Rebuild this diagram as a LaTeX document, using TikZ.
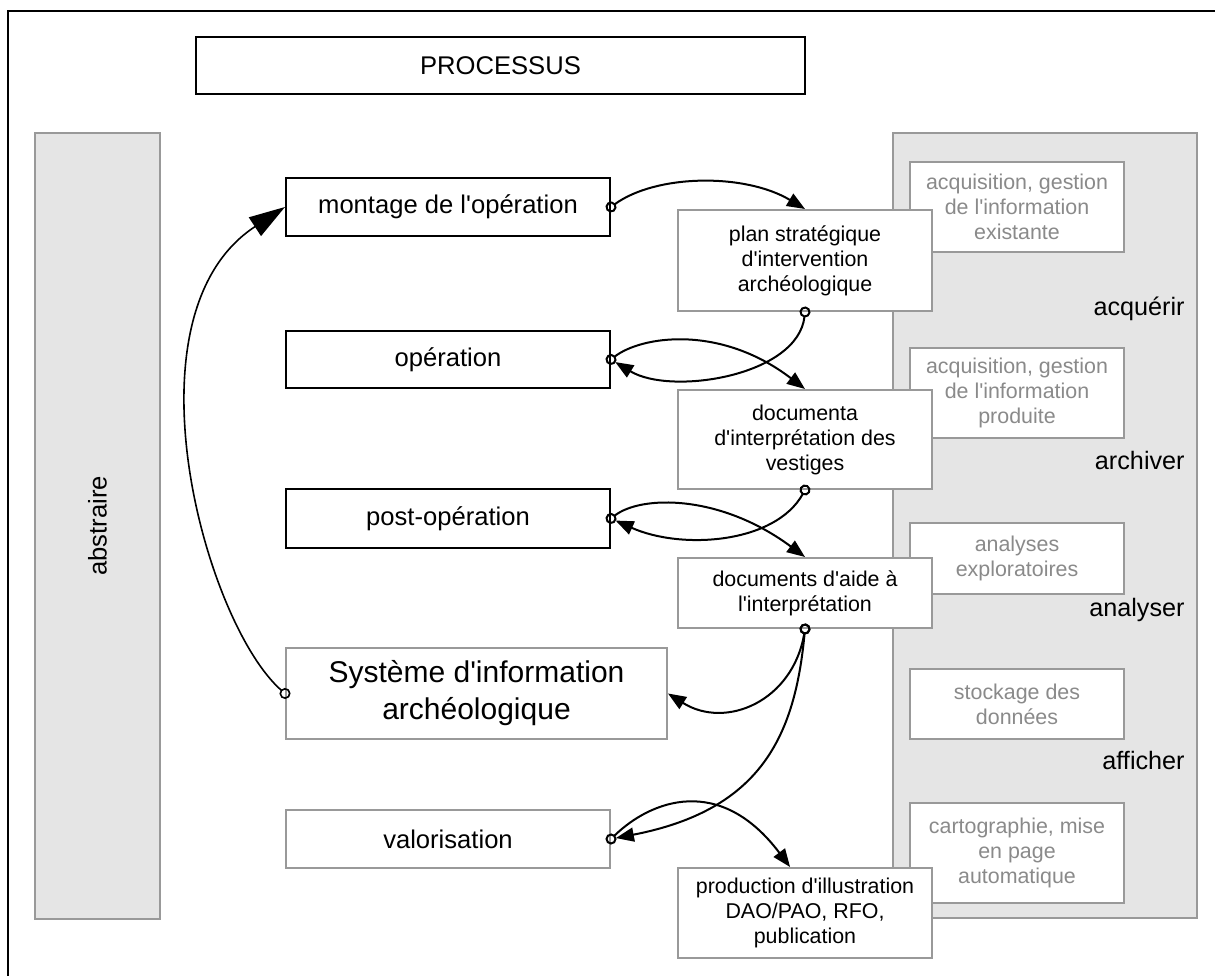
\documentclass[tikz,border=0pt]{standalone}
\usepackage{fontspec}
\setmainfont{Liberation Sans}
\usetikzlibrary{arrows.meta}
\definecolor{panelgrey}{RGB}{229,229,229}
\definecolor{boxgrey}{RGB}{153,153,153}
\definecolor{txtgrey}{RGB}{138,138,138}
\newcommand{\ap}{\textquotesingle}

\begin{document}
\begin{tikzpicture}[x=0.5pt,y=0.5pt,
  box/.style={draw=black, line width=1pt, fill=white, minimum width=162pt, minimum height=29pt, inner sep=0pt, align=center, font=\fontsize{12.8}{15}\selectfont},
  greybox/.style={box, draw=boxgrey},
  docbox/.style={draw=boxgrey, line width=1pt, fill=white, minimum width=127pt, inner sep=0pt, align=center, font=\fontsize{10.7}{12.5}\selectfont},
  toolbox/.style={docbox, minimum width=107pt, text=txtgrey},
  panel/.style={draw=boxgrey, line width=1pt, fill=panelgrey, inner sep=0pt, font=\fontsize{12.8}{15}\selectfont},
  phase/.style={anchor=east, inner sep=0pt, font=\fontsize{12.6}{15}\selectfont},
  flow/.style={line width=1pt, {Circle[open,length=5.5pt,width=5.5pt]}-{Triangle[length=9pt,width=7pt]}, shorten <=-2.75pt},
]
\useasboundingbox (0,0) rectangle (1215,975);
\draw[line width=1.2pt] (8,964) rectangle (1230,-10);

% panneaux lateraux
\node[panel, rotate=90, minimum width=393pt, minimum height=62.5pt] (abstr) at (97.5,449) {abstraire};
\node[panel, minimum width=152pt, minimum height=392.5pt] (outils) at (1045,449.5) {};

\node[toolbox, minimum height=45pt] (existante) at (1017,768) {acquisition, gestion\\de l\ap information\\existante};
\node[toolbox, minimum height=45pt] (produite) at (1017,582) {acquisition, gestion\\de l\ap information\\produite};
\node[toolbox, minimum height=35.5pt] (analyses) at (1017,416.5) {analyses\\exploratoires};
\node[toolbox, minimum height=35pt] (stockage) at (1017,271) {stockage des\\données};
\node[toolbox, minimum height=50pt] (carto) at (1017,122) {cartographie, mise\\en page\\automatique};

\node[phase] (acquerir) at (1185,666) {acquérir};
\node[phase] (archiver) at (1185,515) {archiver};
\node[phase] (analyser) at (1185,365) {analyser};
\node[phase] (afficher) at (1185,215) {afficher};

% processus
\node[box, minimum width=304.5pt, minimum height=28.5pt] (processus) at (500.5,909.5) {PROCESSUS};

\node[box] (montage) at (448,768) {montage de l\ap opération};
\node[box, minimum height=28.5pt] (operation) at (448,615.5) {opération};
\node[box, minimum height=29.5pt] (postop) at (448,456.5) {post-opération};
\node[greybox, minimum width=190.5pt, minimum height=45.5pt, font=\fontsize{15}{18.5}\selectfont] (systeme) at (476.5,281.5) {Système d\ap information\\archéologique};
\node[greybox] (valorisation) at (448,136) {valorisation};

\node[docbox, minimum height=50.5pt] (plan) at (805,714.5) {plan stratégique\\d\ap intervention\\archéologique};
\node[docbox, minimum height=49.5pt] (vestiges) at (805,535.5) {documenta\\d\ap interprétation des\\vestiges};
\node[docbox, minimum height=35pt] (aide) at (805,382) {documents d\ap aide à\\l\ap interprétation};
\node[docbox, minimum height=45pt] (production) at (805,62) {production d\ap illustration\\DAO/PAO, RFO,\\publication};

% liaisons
\draw[flow] (montage.east) .. controls +(45,33) and +(-60,36) .. (plan.north);
\draw[flow, shorten >=2.5pt] (plan.south) .. controls +(-7,-64) and +(60,-36.5) .. (operation.east);
\draw[flow] (operation.east) .. controls +(30,23.5) and +(-85,65) .. (vestiges.north);
\draw[flow, shorten >=2.5pt] (vestiges.south) .. controls +(-30,-54) and +(70,-31.5) .. (postop.east);
\draw[flow] (postop.east) .. controls +(30,23.5) and +(-85,63) .. (aide.north);
\draw[flow] (aide.south) .. controls +(-12,-72) and +(58,-36.5) .. (systeme.east);
\draw[flow, shorten >=2.5pt] (aide.south) .. controls +(-10,-107) and +(150,29) .. (valorisation.east);
\draw[flow] (valorisation.east) .. controls +(40,39) and +(-70,93) .. (production.108);
\draw[flow, line width=0.8pt, {Circle[open,length=5.5pt,width=5.5pt]}-{Triangle[length=18pt,width=11pt]}] (systeme.west) .. controls +(-80,70) and +(-165,-108) .. (montage.west);
\end{tikzpicture}
\end{document}
